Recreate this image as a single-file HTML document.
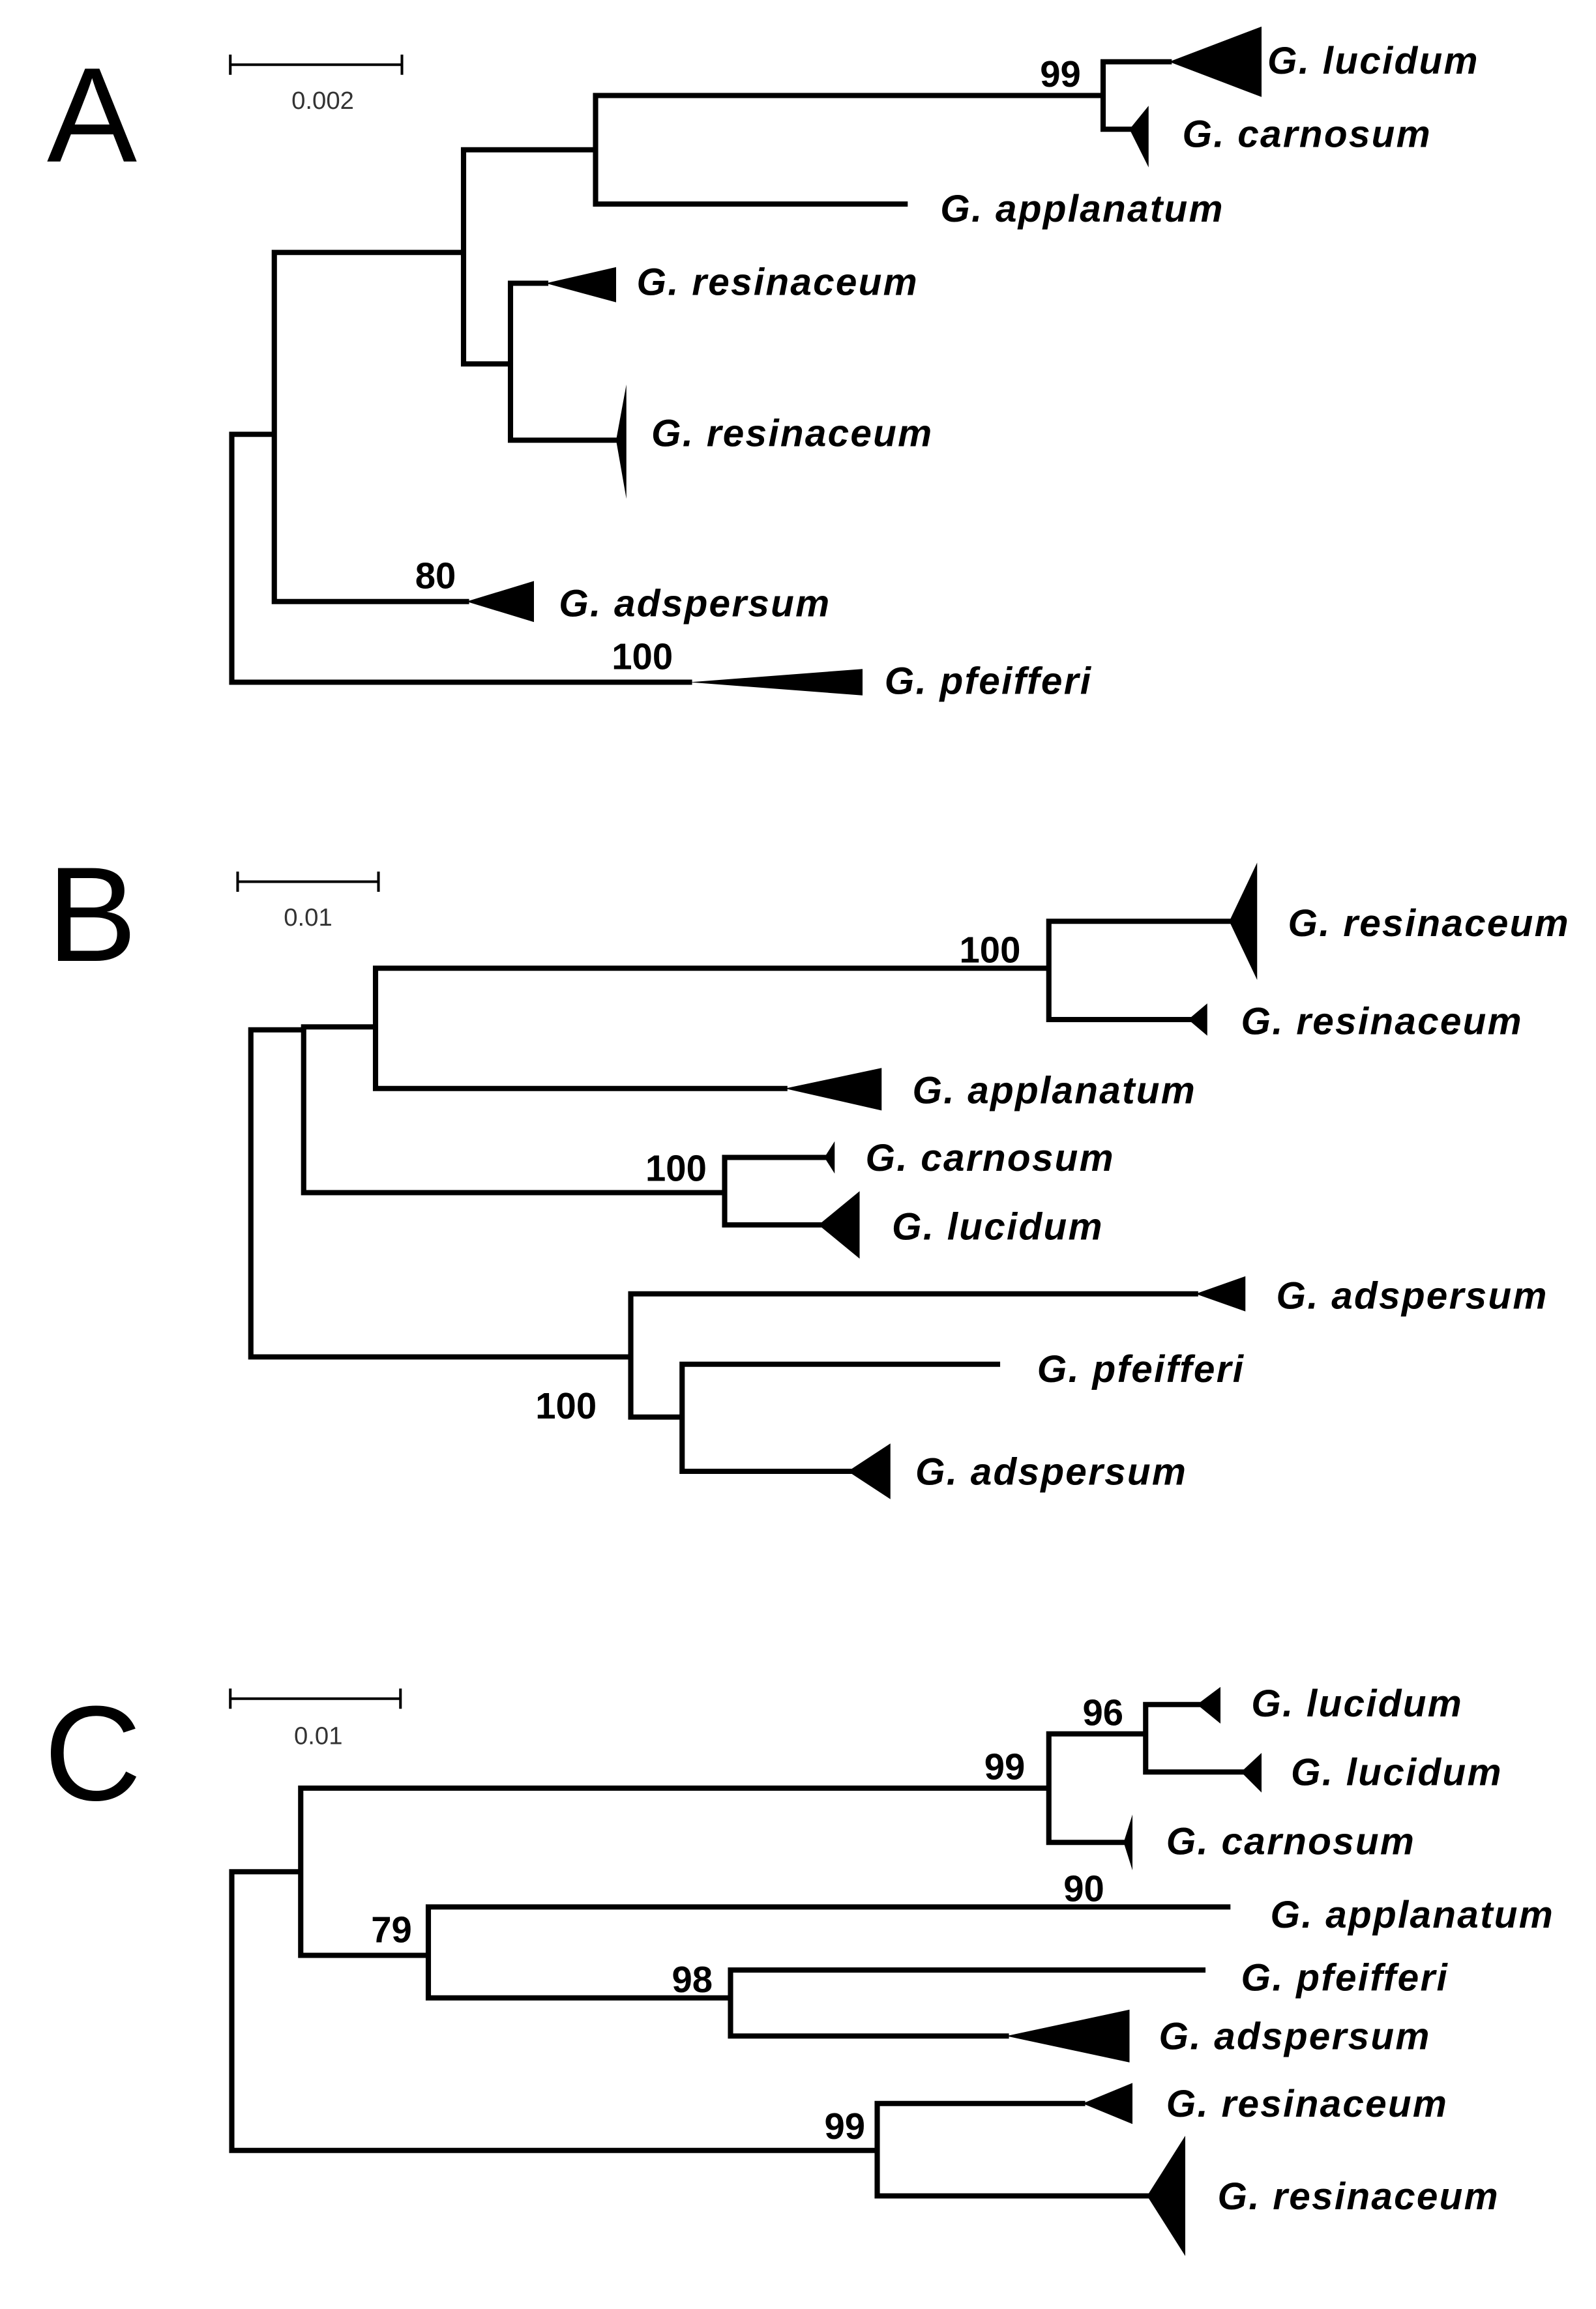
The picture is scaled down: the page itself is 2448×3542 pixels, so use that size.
<!DOCTYPE html>
<html><head><meta charset="utf-8"><style>
html,body{margin:0;padding:0;background:#fff;}
svg{display:block;}
.l{font-family:"Liberation Sans",Arial,sans-serif;font-weight:bold;font-style:italic;font-size:26px;letter-spacing:1px;fill:#000;}
.n{font-family:"Liberation Sans",Arial,sans-serif;font-weight:bold;font-size:25px;fill:#000;}
.s{font-family:"Liberation Sans",Arial,sans-serif;font-size:17px;fill:#333;}
.big{font-family:"Liberation Sans",Arial,sans-serif;font-size:92px;fill:#000;}
</style></head><body>
<svg width="2448" height="3542" viewBox="0 0 1088 1574" xmlns="http://www.w3.org/2000/svg">
<rect width="1088" height="1574" fill="#fff"/>
<g stroke="#000" stroke-width="3.6" fill="none" stroke-linecap="square">
<path d="M157,44H274M157,38V50M274,38V50" stroke-width="1.8"/>
<path d="M158,296V465M158,296H187M187,172V410M187,172H316M316,102V248M316,102H406M406,65V139M406,65H752M752,42V88M752,42H797M752,88H770M406,139H617M316,248H348M348,193V300M348,193H372M348,300H420M187,410H318M158,465H470"/>
<path d="M162,601H258M162,595V607M258,595V607" stroke-width="1.8"/>
<path d="M171,702V925M171,925H430M171,702H207M207,700V813M207,700H256M256,660V742M256,660H715M715,628V695M715,628H838M715,695H812M256,742H535M207,813H494M494,789V835M494,789H565M494,835H560M430,882V966M430,882H815M430,966H465M465,930V1003M465,930H680M465,1003H580"/>
<path d="M157,1158H273M157,1152V1164M273,1152V1164" stroke-width="1.8"/>
<path d="M158,1276V1466M158,1276H205M205,1219V1333M205,1219H715M715,1182V1256M715,1182H781M781,1162V1208M781,1162H818M781,1208H848M715,1256H768M205,1333H292M292,1300V1362M292,1300H837M292,1362H498M498,1343V1388M498,1343H820M498,1388H686M158,1466H598M598,1434V1497M598,1434H738M598,1497H782"/>
</g>
<g fill="#000">
<polygon points="797,42 860,18 860,66"/>
<polygon points="770,88 783,72 783,114"/>
<polygon points="372,193 420,182 420,206"/>
<polygon points="420,300 427,262 427,340"/>
<polygon points="318,410 364,396 364,424"/>
<polygon points="470,465 588,456 588,474"/>
<polygon points="838,628 857,588 857,668"/>
<polygon points="810,695 823,684 823,706"/>
<polygon points="535,742 601,728 601,757"/>
<polygon points="562,789 569,778 569,800"/>
<polygon points="558,835 586,812 586,858"/>
<polygon points="815,882 849,870 849,894"/>
<polygon points="578,1003 607,984 607,1022"/>
<polygon points="816,1162 832,1150 832,1175"/>
<polygon points="846,1208 860,1195 860,1222"/>
<polygon points="766,1256 772,1237 772,1275"/>
<polygon points="686,1388 770,1370 770,1406"/>
<polygon points="738,1434 772,1420 772,1448"/>
<polygon points="782,1497 808,1456 808,1538"/>
</g>
<text class="big" x="32" y="110">A</text>
<text class="big" x="32" y="655">B</text>
<text class="big" x="30" y="1227">C</text>
<text class="s" x="220" y="74" text-anchor="middle">0.002</text>
<text class="s" x="210" y="631" text-anchor="middle">0.01</text>
<text class="s" x="217" y="1189" text-anchor="middle">0.01</text>
<text class="n" x="709" y="59">99</text>
<text class="n" x="283" y="401">80</text>
<text class="n" x="417" y="456">100</text>
<text class="n" x="654" y="656">100</text>
<text class="n" x="440" y="805">100</text>
<text class="n" x="365" y="967">100</text>
<text class="n" x="671" y="1213">99</text>
<text class="n" x="738" y="1176">96</text>
<text class="n" x="725" y="1296">90</text>
<text class="n" x="253" y="1324">79</text>
<text class="n" x="458" y="1358">98</text>
<text class="n" x="562" y="1458">99</text>
<text class="l" x="864" y="50">G. lucidum</text>
<text class="l" x="806" y="100">G. carnosum</text>
<text class="l" x="641" y="151">G. applanatum</text>
<text class="l" x="434" y="201">G. resinaceum</text>
<text class="l" x="444" y="304">G. resinaceum</text>
<text class="l" x="381" y="420">G. adspersum</text>
<text class="l" x="603" y="473">G. pfeifferi</text>
<text class="l" x="878" y="638">G. resinaceum</text>
<text class="l" x="846" y="705">G. resinaceum</text>
<text class="l" x="622" y="752">G. applanatum</text>
<text class="l" x="590" y="798">G. carnosum</text>
<text class="l" x="608" y="845">G. lucidum</text>
<text class="l" x="870" y="892">G. adspersum</text>
<text class="l" x="707" y="942">G. pfeifferi</text>
<text class="l" x="624" y="1012">G. adspersum</text>
<text class="l" x="853" y="1170">G. lucidum</text>
<text class="l" x="880" y="1217">G. lucidum</text>
<text class="l" x="795" y="1264">G. carnosum</text>
<text class="l" x="866" y="1314">G. applanatum</text>
<text class="l" x="846" y="1357">G. pfeifferi</text>
<text class="l" x="790" y="1397">G. adspersum</text>
<text class="l" x="795" y="1443">G. resinaceum</text>
<text class="l" x="830" y="1506">G. resinaceum</text>
</svg>
</body></html>
